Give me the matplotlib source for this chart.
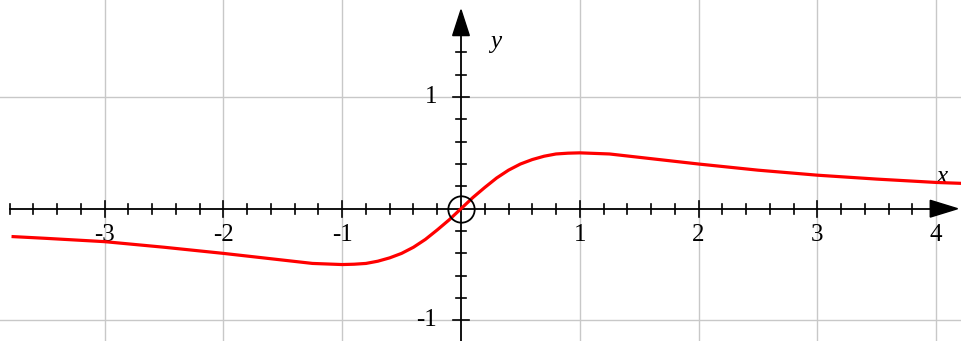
import matplotlib
matplotlib.use("Agg")
import matplotlib.pyplot as plt

# curve values
xs = [-3.77, -3.5, -3.0, -2.5, -2.0, -1.75, -1.5, -1.25, -1.0, -0.9, -0.8, -0.7, -0.6, -0.5, -0.4, -0.3,
      -0.2, -0.1, 0.0, 0.1, 0.2, 0.3, 0.4, 0.5, 0.6, 0.7, 0.8, 0.9, 1.0, 1.25, 1.5, 1.75, 2.0,
      2.5, 3.0, 3.5, 4.0, 4.21]
ys = [-0.25, -0.265, -0.295, -0.345, -0.40, -0.43, -0.46, -0.49, -0.50, -0.497, -0.49, -0.47, -0.44,
      -0.40, -0.345, -0.275, -0.19, -0.10, 0.0, 0.10, 0.19, 0.275, 0.345, 0.40, 0.44, 0.47, 0.49,
      0.497, 0.50, 0.49, 0.46, 0.43, 0.40, 0.345, 0.30, 0.265, 0.235, 0.227]
x_ticks = [-3, -2, -1, 1, 2, 3, 4]
y_ticks = [1, -1]

W, H = 961, 341
fig = plt.figure(figsize=(W / 100, H / 100), dpi=100)
ax = fig.add_axes([0, 0, 1, 1])
x0px, y0px = 461, 208.7
sx, sy = 118.8, 111.7
ax.set_xlim(-x0px / sx, (W - x0px) / sx)
ax.set_ylim(-(H - y0px) / sy, y0px / sy)
ax.axis('off')

grid_c = '#c8c8c8'
for v in x_ticks:
    ax.axvline(v, color=grid_c, lw=1.0, zorder=1)
for v in y_ticks:
    ax.axhline(v, color=grid_c, lw=1.0, zorder=1)

# axes lines
xl = -3.8
ax.plot([xl, 4.0], [0, 0], color='black', lw=1.3, zorder=3)
ax.plot([0, 0], [-1.3, 1.55], color='black', lw=1.3, zorder=3)
# arrowheads
ax.fill([3.95, 4.18, 3.95], [0.075, 0, -0.075], color='black', zorder=3)
ax.fill([-0.07, 0, 0.07], [1.55, 1.78, 1.55], color='black', zorder=3)

# ticks
hx_min, hx_maj = 5 / sy, 8 / sy
hy_min, hy_maj = 5 / sx, 8 / sx
for i in range(-19, 20):
    v = i * 0.2
    if v < xl - 1e-9 or v > 3.95 or abs(v) < 1e-9:
        continue
    h = hx_maj if abs(v - round(v)) < 1e-6 else hx_min
    ax.plot([v, v], [-h, h], color='black', lw=1.2, zorder=3)
for i in range(-6, 8):
    v = i * 0.2
    if abs(v) < 1e-9:
        continue
    h = hy_maj if abs(v - round(v)) < 1e-6 else hy_min
    ax.plot([-h, h], [v, v], color='black', lw=1.2, zorder=3)

# curve
ax.plot(xs, ys, color='red', lw=2.3, zorder=4, solid_joinstyle='round')

# origin circle
ax.plot([0], [0], marker='o', ms=19, mfc='none', mec='black', mew=1.3, zorder=5)

font = dict(family=['Liberation Serif', 'DejaVu Serif'], fontsize=18)
for v in x_ticks:
    ax.text(v, -0.14, str(v), ha='center', va='top', **font)
for v in y_ticks:
    ax.text(-0.2, v, str(v), ha='right', va='center', **font)
ax.text(4.05, 0.28, 'x', ha='center', va='center', style='italic', **font)
ax.text(0.29, 1.49, 'y', ha='center', va='center', style='italic', **font)

fig.savefig('out.png', dpi=100)
